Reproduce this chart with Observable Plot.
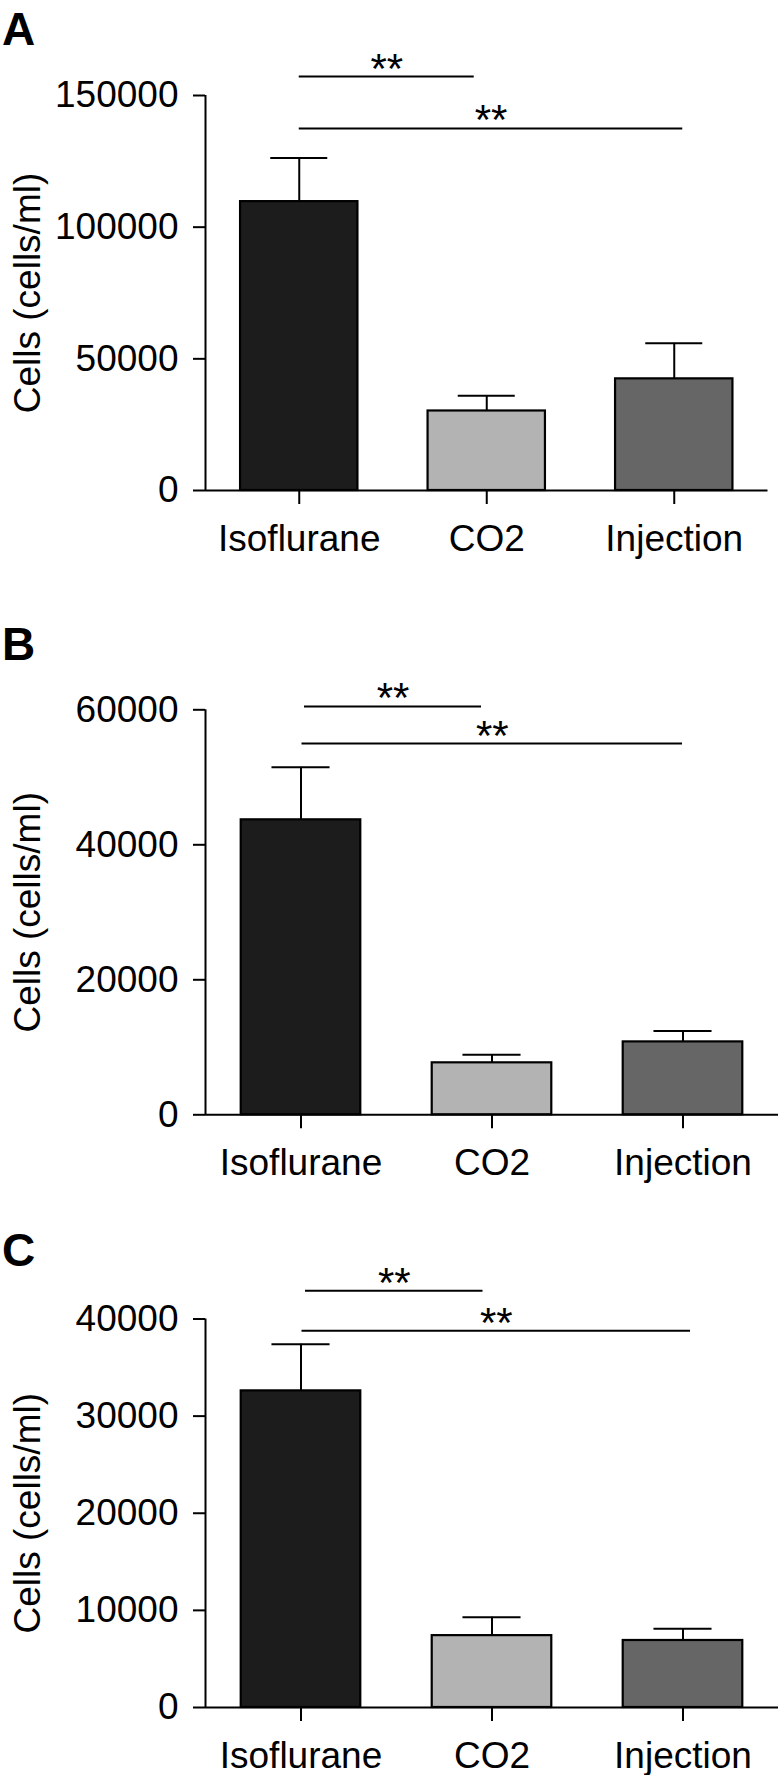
<!DOCTYPE html>
<html><head><meta charset="utf-8">
<script src="https://cdn.jsdelivr.net/npm/d3@7"></script>
<script src="https://cdn.jsdelivr.net/npm/@observablehq/plot@0.6"></script>
<style>
body{margin:0;background:#fff;}
#chart{width:783px;}
.panel{position:relative;}
.panel svg{display:block;}
.letter{position:absolute;left:2px;font:bold 46px "Liberation Sans",Arial,Helvetica,sans-serif;line-height:46px;color:#000;}
</style></head>
<body><div id="chart"></div>
<script>
// ---- data ----
const categories = ["Isoflurane", "CO2", "Injection"];
const fills = ["#1c1c1c", "#b3b3b3", "#666666"];
const panelLetters = ["A", "B", "C"];
const yLabel = "Cells (cells/ml)";

const meansA = [109700, 30200, 42400];
const errTopA = [126300, 36000, 55900];
const ticksA = [0, 50000, 100000, 150000];
const sigA = [
  {from: "Isoflurane", to: "CO2", y: 157200, label: "**"},
  {from: "Isoflurane", to: "Injection", y: 137500, label: "**"}
];

const meansB = [43700, 7700, 10800];
const errTopB = [51500, 8900, 12400];
const ticksB = [0, 20000, 40000, 60000];
const sigB = [
  {from: "Isoflurane", to: "CO2", y: 60500, label: "**"},
  {from: "Isoflurane", to: "Injection", y: 55000, label: "**"}
];

const meansC = [32600, 7400, 6900];
const errTopC = [37400, 9300, 8100];
const ticksC = [0, 10000, 20000, 30000, 40000];
const sigC = [
  {from: "Isoflurane", to: "CO2", y: 42900, label: "**"},
  {from: "Isoflurane", to: "Injection", y: 38800, label: "**"}
];

// ---- styling / layout ----
const FONT = '"Liberation Sans", Arial, Helvetica, sans-serif';
const X_DOMAIN = [-0.5, 2.5];
const BAR_HALF = 0.313;
const CAP_HALF = 0.152;
const layouts = [
  {height: 600, marginTop: 95, marginBottom: 110, marginRight: 15.5, letterTop: 6, insets: [[0, 12.5], [0, -8.5]]},
  {height: 600, marginTop: 109.3, marginBottom: 85.7, marginRight: 5, letterTop: 21, insets: [[3.5, 10.5], [1, 0.5]]},
  {height: 575, marginTop: 118.5, marginBottom: 68, marginRight: 5, letterTop: 27, insets: [[4.5, 9], [1, -7.5]]}
];

function panel(means, errs, ticks, sigs, cfg) {
  const data = categories.map((c, i) => ({i, cat: c, mean: means[i], err: errs[i], fill: fills[i]}));
  const idx = c => categories.indexOf(c);
  const marks = [
    Plot.rect(data, {x1: d => d.i - BAR_HALF, x2: d => d.i + BAR_HALF, y1: () => 0, y2: "mean", fill: "fill", stroke: "#000", strokeWidth: 2.2}),
    Plot.ruleX(data, {x: "i", y1: "mean", y2: "err", stroke: "#000", strokeWidth: 2}),
    Plot.ruleY(data, {x1: d => d.i - CAP_HALF, x2: d => d.i + CAP_HALF, y: "err", stroke: "#000", strokeWidth: 2}),
    Plot.ruleY([0], {stroke: "#000", strokeWidth: 2}),
    Plot.ruleX([X_DOMAIN[0]], {stroke: "#000", strokeWidth: 2}),
    Plot.axisY({ticks, tickSize: 12, tickPadding: 15, tickFormat: d => String(d), fontSize: 37, label: null, strokeWidth: 2}),
    Plot.axisX({ticks: [0, 1, 2], tickFormat: i => categories[i], tickSize: 14, tickPadding: 20, fontSize: 37, label: null, strokeWidth: 2}),
    ...sigs.map((s, k) => Plot.ruleY([s], {x1: d => idx(d.from), x2: d => idx(d.to), y: "y", insetLeft: cfg.insets[k][0], insetRight: cfg.insets[k][1], stroke: "#000", strokeWidth: 2})),
    ...sigs.map((s, k) => Plot.text([s], {x: d => (idx(d.from) + idx(d.to)) / 2, y: "y", text: "label", lineAnchor: "bottom", dy: 6, dx: (cfg.insets[k][0] - cfg.insets[k][1]) / 2, fontSize: 42, fill: "#000"})),
    Plot.text([yLabel], {text: d => d, frameAnchor: "left", rotate: -90, dx: -177.3, lineAnchor: "middle", textAnchor: "middle", fontSize: 37, fill: "#000"})
  ];
  return Plot.plot({
    width: 783,
    height: cfg.height,
    marginLeft: 205,
    marginRight: cfg.marginRight,
    marginTop: cfg.marginTop,
    marginBottom: cfg.marginBottom,
    x: {domain: X_DOMAIN},
    y: {domain: [0, ticks[ticks.length - 1]]},
    color: {type: "identity"},
    style: {fontFamily: FONT, fontSize: "37px", color: "#000", background: "#fff", overflow: "visible"},
    marks
  });
}

const container = document.getElementById("chart");
const series = [[meansA, errTopA, ticksA, sigA], [meansB, errTopB, ticksB, sigB], [meansC, errTopC, ticksC, sigC]];
series.forEach((s, k) => {
  const div = document.createElement("div");
  div.className = "panel";
  div.appendChild(panel(s[0], s[1], s[2], s[3], layouts[k]));
  const letter = document.createElement("div");
  letter.className = "letter";
  letter.style.top = layouts[k].letterTop + "px";
  letter.textContent = panelLetters[k];
  div.appendChild(letter);
  container.appendChild(div);
});
</script>
</body></html>
